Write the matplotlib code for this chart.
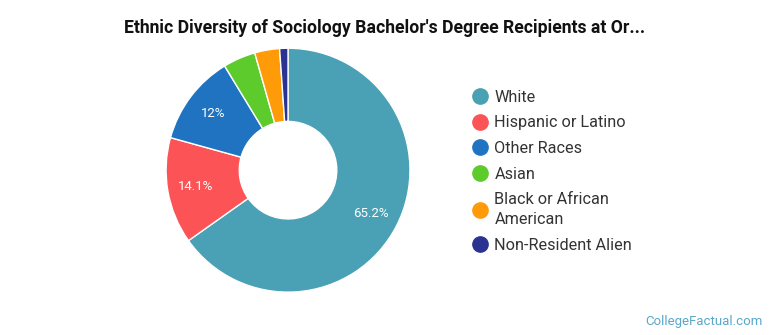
import matplotlib
matplotlib.use("Agg")
import matplotlib.pyplot as plt
from matplotlib.lines import Line2D

plt.rcParams['font.family'] = ['Roboto', 'DejaVu Sans']

categories = ["White", "Hispanic or Latino", "Other Races", "Asian",
              "Black or African\nAmerican", "Non-Resident Alien"]
values = [65.2, 14.1, 12.0, 4.3, 3.3, 1.1]
colors = ["#4aa0b5", "#fc5356", "#1f73c0", "#5dcb2b", "#ff9a08", "#2a3392"]
title = "Ethnic Diversity of Sociology Bachelor's Degree Recipients at Or..."
watermark = "CollegeFactual.com"

fig = plt.figure(figsize=(7.7, 3.35), dpi=100)
ax = fig.add_axes([0.2156, 0.128, 0.3169, 0.728])

def fmt(pct):
    return f"{pct:.1f}".rstrip('0').rstrip('.') + "%" if pct >= 8 else ""

wedges, texts, autotexts = ax.pie(
    values, colors=colors, startangle=90, counterclock=False,
    autopct=fmt, pctdistance=0.765,
    wedgeprops=dict(width=0.6, edgecolor="white", linewidth=1),
    textprops=dict(color="white", fontsize=9.5))
ax.set_aspect('equal')
ax.set_xlim(-1, 1)
ax.set_ylim(-1, 1)

fig.text(0.5, 0.915, title, ha='center', va='center', fontsize=12.7,
         fontweight='bold', color='#111111')

handles = [Line2D([0], [0], marker='o', linestyle='none', markersize=11,
                  markerfacecolor=c, markeredgecolor=c) for c in colors]
leg = fig.legend(handles, categories, loc='upper left',
                 bbox_to_anchor=(0.600, 0.757), frameon=False, fontsize=11.7,
                 labelspacing=0.66, handletextpad=0.3, handlelength=1.2,
                 borderpad=0, labelcolor='#333333')
for t in leg.get_texts():
    t.set_linespacing(1.4)

fig.text(0.991, 0.04, watermark, ha='right', va='center', fontsize=9.5,
         color='#5aa7c9')

fig.savefig("out.png", dpi=100)
